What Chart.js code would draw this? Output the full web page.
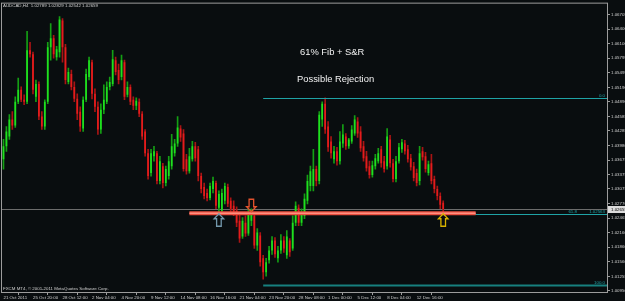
<!DOCTYPE html>
<html><head><meta charset="utf-8">
<script src="https://cdn.jsdelivr.net/npm/chart.js@4.4.0/dist/chart.umd.min.js"></script>
<style>html,body{margin:0;padding:0;background:#090d0f;overflow:hidden}canvas{display:block}</style>
</head><body>
<canvas id="c" width="625" height="301"></canvas>
<script>
// ---------- data ----------
const symbolTitle = "AUDCAD,H4";
const copyright = "FXCM MT4, \u00A9 2001-2011 MetaQuotes Software Corp.";
const xTickLabels = ["21 Oct 2011","25 Oct 20:00","28 Oct 12:00","2 Nov 04:00","4 Nov 20:00","9 Nov 12:00","14 Nov 08:00","16 Nov 16:00","21 Nov 04:00","23 Nov 20:00","28 Nov 08:00","1 Dec 00:00","5 Dec 12:00","8 Dec 04:00","12 Dec 16:00"];
const barsPerLabel = 10;
const totalSlots = 205;
const yTickLabels = ["1.06705","1.06400","1.06100","1.05795","1.05495","1.05190","1.04890","1.04585","1.04285","1.03980","1.03675","1.03375","1.03075","1.02770","1.02465","1.02160","1.01860","1.01560","1.01255","1.00950"];
const yMin = 1.00929, yMax = 1.06932;

const opens = [1.03693,1.03961,1.04167,1.04518,1.04394,1.04889,1.05137,1.04931,1.04889,1.05962,
1.05879,1.04992,1.05261,1.04580,1.04374,1.04889,1.06024,1.06209,1.05818,1.05921,
1.06581,1.06024,1.05302,1.05467,1.05199,1.04951,1.04683,1.04332,1.04931,1.05405,
1.05714,1.05054,1.04786,1.04312,1.04724,1.04889,1.05199,1.05261,1.05756,1.05549,
1.05405,1.05714,1.05034,1.05199,1.04931,1.04807,1.04889,1.04642,1.04270,1.03817,
1.03404,1.03755,1.03817,1.03239,1.03549,1.03198,1.03342,1.03549,1.03817,1.04023,
1.04332,1.04229,1.03693,1.03445,1.03693,1.03961,1.03899,1.03342,1.03115,1.02992,
1.02888,1.03074,1.03198,1.02682,1.02620,1.02827,1.03115,1.02827,1.02723,1.02620,
1.02414,1.02084,1.02373,1.02146,1.02414,1.02517,1.01898,1.02105,1.01630,1.01342,
1.01589,1.01795,1.02002,1.01630,1.01795,1.02002,1.01692,1.02002,1.01837,1.02373,
1.02682,1.02373,1.02517,1.02827,1.03136,1.03136,1.03487,1.03239,1.04518,1.04848,
1.04374,1.04064,1.03693,1.03858,1.03652,1.04023,1.04167,1.03961,1.04064,1.04229,
1.04477,1.04270,1.03961,1.03755,1.03549,1.03363,1.03549,1.03652,1.03899,1.03652,
1.03549,1.04105,1.03610,1.03280,1.03652,1.03899,1.04023,1.03899,1.03714,1.03549,
1.03404,1.03239,1.03858,1.03755,1.03404,1.03610,1.03280,1.03074,1.02930,1.02789];
const highs = [1.04105,1.04374,1.04621,1.04683,1.04992,1.05384,1.05199,1.05034,1.06354,1.06127,
1.05921,1.05343,1.05302,1.04683,1.04931,1.06127,1.06519,1.06271,1.06044,1.06663,
1.06622,1.06086,1.05591,1.05549,1.05302,1.05054,1.04786,1.04992,1.05570,1.05818,
1.05756,1.05157,1.04889,1.04848,1.05240,1.05302,1.05405,1.05962,1.05818,1.05673,
1.05859,1.05756,1.05302,1.05240,1.04992,1.04972,1.04951,1.04683,1.04312,1.03899,
1.03899,1.03961,1.03858,1.03755,1.03610,1.03549,1.03755,1.04209,1.04105,1.04580,
1.04394,1.04312,1.03796,1.03920,1.04064,1.04044,1.03961,1.03404,1.03198,1.03074,
1.03198,1.03322,1.03239,1.03033,1.03074,1.03198,1.03177,1.02888,1.02827,1.02703,
1.02538,1.02476,1.02517,1.02662,1.02662,1.02579,1.02249,1.02167,1.01692,1.01630,
1.01878,1.02084,1.02063,1.01878,1.02125,1.02084,1.02208,1.02043,1.02517,1.02806,
1.02744,1.02662,1.02971,1.03363,1.03549,1.03899,1.03549,1.04683,1.04889,1.04972,
1.04477,1.04167,1.03961,1.03940,1.04270,1.04415,1.04229,1.04126,1.04394,1.04601,
1.04559,1.04374,1.04064,1.03858,1.03652,1.03652,1.03796,1.03920,1.03961,1.03755,
1.04332,1.04188,1.03693,1.03755,1.04023,1.04105,1.04085,1.03982,1.03796,1.03631,
1.03487,1.03961,1.03940,1.03837,1.03652,1.03796,1.03342,1.03136,1.02992,1.02829];
const lows = [1.03487,1.03858,1.04105,1.04312,1.04353,1.04848,1.04889,1.04827,1.04848,1.05818,
1.05054,1.04889,1.04518,1.04312,1.04312,1.04848,1.05756,1.05797,1.05756,1.05818,
1.05714,1.05261,1.05261,1.05137,1.04889,1.04518,1.04270,1.04270,1.04889,1.05343,
1.04951,1.04683,1.04209,1.04229,1.04642,1.04848,1.05137,1.05219,1.05446,1.05261,
1.05343,1.04931,1.04992,1.04827,1.04724,1.04724,1.04580,1.04105,1.03755,1.03280,
1.03342,1.03652,1.03177,1.03177,1.03095,1.03136,1.03280,1.03487,1.03755,1.03961,
1.04064,1.03445,1.03383,1.03404,1.03652,1.03652,1.03239,1.02992,1.02868,1.02827,
1.02847,1.02992,1.02662,1.02579,1.02538,1.02765,1.02703,1.02600,1.02517,1.02290,
1.01960,1.02043,1.02084,1.02105,1.02311,1.01837,1.01795,1.01465,1.01197,1.01259,
1.01527,1.01713,1.01651,1.01548,1.01733,1.01754,1.01630,1.01672,1.01795,1.02311,
1.02311,1.02311,1.02455,1.02765,1.03033,1.03033,1.03136,1.03177,1.04374,1.04229,
1.03858,1.03714,1.03610,1.03569,1.03590,1.03940,1.03899,1.03920,1.04023,1.04188,
1.04147,1.03858,1.03652,1.03445,1.03301,1.03322,1.03487,1.03610,1.03528,1.03425,
1.03487,1.03528,1.03219,1.03219,1.03610,1.03837,1.03796,1.03631,1.03466,1.03239,
1.03136,1.03157,1.03672,1.03425,1.03363,1.03177,1.02992,1.02847,1.02662,1.02542];
const closes = [1.03961,1.04270,1.04518,1.04394,1.04889,1.05137,1.04931,1.04889,1.05962,1.05879,
1.05137,1.05261,1.04580,1.04374,1.04889,1.06024,1.06209,1.05879,1.05983,1.06601,
1.06024,1.05343,1.05508,1.05199,1.04951,1.04642,1.04374,1.04931,1.05467,1.05756,
1.05054,1.04786,1.04312,1.04724,1.04931,1.05199,1.05302,1.05776,1.05508,1.05343,
1.05756,1.04992,1.05199,1.04889,1.04807,1.04910,1.04642,1.04167,1.03817,1.03342,
1.03817,1.03858,1.03239,1.03652,1.03198,1.03487,1.03652,1.03961,1.04023,1.04353,
1.04147,1.03487,1.03445,1.03755,1.03961,1.03714,1.03342,1.03074,1.02930,1.02888,
1.03136,1.03239,1.02723,1.02971,1.02992,1.03136,1.02765,1.02662,1.02579,1.02373,
1.02043,1.02414,1.02146,1.02538,1.02558,1.01898,1.02167,1.01548,1.01342,1.01548,
1.01795,1.02002,1.01713,1.01795,1.02002,1.01837,1.02084,1.01754,1.02373,1.02723,
1.02373,1.02579,1.02868,1.03239,1.03445,1.03487,1.03239,1.04621,1.04848,1.04312,
1.03940,1.03817,1.03858,1.03652,1.04064,1.04209,1.03961,1.04105,1.04312,1.04518,
1.04229,1.03920,1.03714,1.03507,1.03363,1.03569,1.03714,1.03817,1.03610,1.03487,
1.04167,1.03610,1.03280,1.03652,1.03940,1.04044,1.03858,1.03693,1.03528,1.03301,
1.03198,1.03817,1.03734,1.03487,1.03590,1.03239,1.03074,1.02930,1.02744,1.02659];

// Fibonacci retracement (high -> low) and objects
const fibLevels = [0.0, 61.8, 100.0];
const fibHigh = 1.04972, fibLow = 1.01074, fibStartBar = 88;
const srPrice = 1.02569, srFromBar = 63, srToBar = 160;
const arrowBars = [73, 84, 149];
const arrowPrices = [1.02558, 1.02600, 1.02558];
const arrowDirs = ["up", "down", "up"];
const notes = ["61% Fib + S&R", "Possible Rejection"];

// ---------- styles ----------
const BG = "#090d0f";
const UP = "#1fe01f", DN = "#e41c1c";
const UPW = "#149f14", DNW = "#a81414";
const AXIS = "#9c9c9c", TXT = "#cfcfcf";
const FIB = "#1fa3a6";
const arrowColors = ["#7398ac", "#e4532e", "#d9b300"];
const FONT = "'Liberation Sans', Arial, sans-serif";

const isUp = i => closes[i] >= opens[i];

const overlay = {
  id: "overlay",
  beforeDraw(chart) {
    const c = chart.ctx;
    c.save(); c.fillStyle = BG; c.fillRect(0, 0, chart.width, chart.height); c.restore();
  },
  beforeDatasetsDraw(chart) {
    const c = chart.ctx, a = chart.chartArea, y = chart.scales.y;
    const py = Math.round(y.getPixelForValue(closes[closes.length - 1])) + 0.5;
    c.save();
    c.strokeStyle = "#6c6c6c"; c.lineWidth = 1;
    c.beginPath(); c.moveTo(a.left, py); c.lineTo(a.right, py); c.stroke();
    c.restore();
  },
  afterDatasetsDraw(chart) {
    const c = chart.ctx, a = chart.chartArea, x = chart.scales.x, y = chart.scales.y;
    c.save();
    // Fibonacci levels
    const fx0 = x.getPixelForValue(fibStartBar);
    fibLevels.forEach(l => {
      const p = fibHigh - l / 100 * (fibHigh - fibLow);
      const py = Math.round(y.getPixelForValue(p)) + 0.5;
      c.strokeStyle = l === 100 ? "#17807f" : FIB; c.lineWidth = l === 100 ? 2 : 1;
      c.beginPath(); c.moveTo(fx0, py); c.lineTo(a.right, py); c.stroke();
      c.fillStyle = FIB; c.font = "4.4px " + FONT; c.textBaseline = "bottom"; c.textAlign = "right";
      const txt = l === 61.8 ? l.toFixed(1) + "          " + p.toFixed(5) : l.toFixed(1);
      c.fillText(txt, a.right - 2, py - 1);
    });
    // S&R line
    const sy = y.getPixelForValue(srPrice);
    const sx0 = x.getPixelForValue(srFromBar), sx1 = x.getPixelForValue(srToBar);
    c.lineCap = "butt";
    c.strokeStyle = "#ec4d3e"; c.lineWidth = 4;
    c.beginPath(); c.moveTo(sx0, sy); c.lineTo(sx1, sy); c.stroke();
    c.strokeStyle = "#ff8f80"; c.lineWidth = 1.4;
    c.beginPath(); c.moveTo(sx0, sy); c.lineTo(sx1, sy); c.stroke();
    // arrows
    arrowBars.forEach((b, k) => {
      const cx = x.getPixelForValue(b), ty = y.getPixelForValue(arrowPrices[k]);
      const d = arrowDirs[k] === "up" ? 1 : -1;
      c.strokeStyle = arrowColors[k]; c.lineWidth = 1.3; c.lineJoin = "miter";
      c.beginPath();
      c.moveTo(cx, ty);
      c.lineTo(cx - 4.8, ty + d * 5);
      c.lineTo(cx - 2.3, ty + d * 5);
      c.lineTo(cx - 2.3, ty + d * 12.5);
      c.lineTo(cx + 2.3, ty + d * 12.5);
      c.lineTo(cx + 2.3, ty + d * 5);
      c.lineTo(cx + 4.8, ty + d * 5);
      c.closePath(); c.stroke();
    });
    // notes
    c.fillStyle = "#f2f2f2"; c.font = "9.4px " + FONT; c.textAlign = "left"; c.textBaseline = "middle";
    c.fillText(notes[0], 300, 52);
    c.fillText(notes[1], 297, 79.5);
    c.restore();
  },
  afterDraw(chart) {
    const c = chart.ctx, a = chart.chartArea, y = chart.scales.y;
    c.save();
    // frame
    c.strokeStyle = AXIS; c.lineWidth = 1;
    c.strokeRect(a.left - 0.5, a.top - 0.5, a.right - a.left + 1, a.bottom - a.top + 1);
    // header and copyright
    c.fillStyle = TXT; c.font = "4.4px " + FONT; c.textBaseline = "middle"; c.textAlign = "left";
    const n = closes.length - 1;
    c.fillText(symbolTitle + "  " + [opens[n], highs[n], lows[n], closes[n]].map(v => v.toFixed(5)).join(" "), 3, 5.5);
    c.fillText(copyright, 3, 288.5);
    // current price label
    const py = Math.round(y.getPixelForValue(closes[n]));
    c.fillStyle = "#dcdcdc"; c.fillRect(a.right + 1, py - 3, chart.width - a.right, 7);
    c.fillStyle = "#000"; c.fillText(closes[n].toFixed(5), a.right + 4, py + 0.5);
    c.restore();
  }
};

const idx = opens.map((_, i) => i);
new Chart(document.getElementById("c"), {
  type: "bar",
  data: {
    datasets: [
      { label: "wick", data: idx.map(i => ({ x: i, y: [lows[i], highs[i]] })),
        backgroundColor: ctx => isUp(ctx.dataIndex) ? UPW : DNW,
        barThickness: 1, grouped: false, order: 2, borderWidth: 0 },
      { label: "body", data: idx.map(i => ({ x: i, y: [opens[i], closes[i]] })),
        backgroundColor: ctx => isUp(ctx.dataIndex) ? UP : DN,
        barPercentage: 1, categoryPercentage: 0.58, grouped: false, order: 1, borderWidth: 0 }
    ]
  },
  options: {
    responsive: false, animation: false, maintainAspectRatio: false,
    layout: { padding: { left: 2, top: 1, right: 0, bottom: 0 } },
    plugins: { legend: { display: false }, tooltip: { enabled: false } },
    scales: {
      x: {
        type: "linear", min: -0.5, max: totalSlots - 0.5, offset: false,
        afterBuildTicks: s => { s.ticks = xTickLabels.map((_, k) => ({ value: k * barsPerLabel })); },
        afterFit: s => { s.height = 9; },
        ticks: { autoSkip: false, maxRotation: 0, align: "start", padding: 0, color: TXT,
                 font: { family: FONT, size: 4.4 },
                 callback: v => xTickLabels[Math.round(v / barsPerLabel)] },
        grid: { drawOnChartArea: false, drawTicks: true, tickLength: 3, color: AXIS },
        border: { display: false }
      },
      y: {
        type: "linear", position: "right", min: yMin, max: yMax, beginAtZero: false,
        afterBuildTicks: s => { s.ticks = yTickLabels.map(t => ({ value: parseFloat(t) })); },
        afterFit: s => { s.width = 18; },
        ticks: { padding: 1, color: TXT, font: { family: FONT, size: 4.4 },
                 callback: (v, i) => yTickLabels[i] },
        grid: { drawOnChartArea: false, drawTicks: true, tickLength: 3, color: AXIS },
        border: { display: false }
      }
    }
  },
  plugins: [overlay]
});
</script>
</body></html>
